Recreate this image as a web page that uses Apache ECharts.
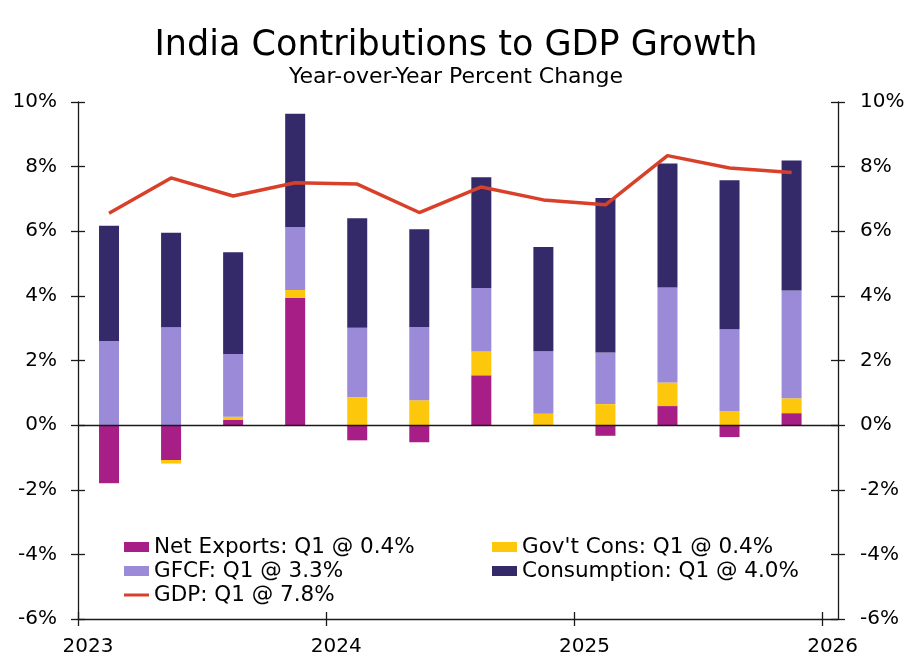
<!DOCTYPE html>
<html>
<head>
<meta charset="utf-8">
<title>India Contributions to GDP Growth</title>
<script src="https://cdn.jsdelivr.net/npm/echarts@6/dist/echarts.min.js"></script>
<style>
  html, body { margin: 0; padding: 0; background: #fff; }
  #chart { width: 912px; height: 662px; }
</style>
</head>
<body>
<div id="chart"></div>
<script>
// Quarters shown, oldest first
var quarters = ['2023-Q1', '2023-Q2', '2023-Q3', '2023-Q4',
                '2024-Q1', '2024-Q2', '2024-Q3', '2024-Q4',
                '2025-Q1', '2025-Q2', '2025-Q3', '2025-Q4'];

// Contributions, percentage points
var netExports  = [-1.79, -1.08, 0.16, 3.94, -0.47, -0.53, 1.54, 0.00, -0.33, 0.59, -0.37, 0.37];
var govCons     = [-0.02, -0.11, 0.10, 0.24, 0.86, 0.77, 0.74, 0.35, 0.65, 0.73, 0.43, 0.46];
var gfcf        = [2.60, 3.03, 1.94, 1.95, 2.15, 2.27, 1.96, 1.94, 1.60, 2.94, 2.54, 3.34];
var consumption = [3.57, 2.92, 3.15, 3.51, 3.39, 3.02, 3.43, 3.22, 4.78, 3.84, 4.61, 4.02];
var gdp         = [6.56, 7.65, 7.09, 7.50, 7.46, 6.58, 7.37, 6.97, 6.82, 8.34, 7.96, 7.82];

// Axis ticks (years)
var yearTicks = [2023, 2024, 2025, 2026];

var names = {
	net: 'Net Exports: Q1 @ 0.4%',
	gov: "Gov't Cons: Q1 @ 0.4%",
	gfcf: 'GFCF: Q1 @ 3.3%',
	cons: 'Consumption: Q1 @ 4.0%',
	gdp: 'GDP: Q1 @ 7.8%'
};

var font = 'DejaVu Sans';
var axisColor = '#1a1a1a';

// Quarter label -> position on the year axis (middle of the quarter)
function quarterPos(q) {
	var parts = q.split('-Q');
	return +parts[0] + (+parts[1] - 0.5) / 4;
}

// value first, position second, so the stack sums the values
function pairs(values) {
	return values.map(function (v, i) { return [v, quarterPos(quarters[i])]; });
}

function barSeries(name, values, color) {
	return {
		name: name,
		type: 'bar',
		stack: 'gdp',
		barWidth: 20,
		encode: { x: 1, y: 0 },
		itemStyle: { color: color },
		data: pairs(values)
	};
}

function legendAt(name, left, top, h) {
	return {
		data: [name],
		left: left,
		top: top,
		padding: 0,
		icon: 'rect',
		itemWidth: 25,
		itemHeight: h,
		selectedMode: false,
		textStyle: { fontFamily: font, fontSize: 21.5, color: '#000' }
	};
}

function yAxisDef(pos, inside, labels) {
	return {
		type: 'value',
		position: pos,
		min: -6,
		max: 10,
		interval: 2,
		axisLine: { show: !inside, lineStyle: { color: axisColor, width: 1.3 } },
		axisTick: { show: true, inside: inside, length: 7, lineStyle: { color: axisColor, width: 1.3 } },
		splitLine: { show: false },
		axisLabel: {
			show: labels,
			margin: pos == 'left' ? 21 : 22,
			fontFamily: font,
			fontSize: 20,
			color: '#000',
			formatter: '{value}%'
		}
	};
}

function xAxisDef(inside, labels) {
	return {
		type: 'value',
		position: 'bottom',
		min: 2023,
		max: 2026.062,
		axisLine: { show: !inside, onZero: false, lineStyle: { color: axisColor, width: 1.3 } },
		axisTick: { show: true, inside: inside, length: 7, customValues: yearTicks, lineStyle: { color: axisColor, width: 1.3 } },
		splitLine: { show: false },
		axisLabel: {
			show: labels,
			customValues: yearTicks,
			margin: 18,
			padding: [0, 0, 0, 20],
			fontFamily: font,
			fontSize: 20,
			color: '#000',
			formatter: function (v) { return String(v); }
		}
	};
}

var chart = echarts.init(document.getElementById('chart'));

var option = {
	animation: false,
	backgroundColor: '#fff',
	title: [{
		text: 'India Contributions to GDP Growth',
		left: 'center',
		top: 28,
		padding: 0,
		textStyle: { fontFamily: font, fontSize: 35, fontWeight: 'normal', color: '#000' }
	}, {
		text: 'Year-over-Year Percent Change',
		left: 'center',
		top: 66,
		padding: 0,
		textStyle: { fontFamily: font, fontSize: 22, fontWeight: 'normal', color: '#000' }
	}],
	legend: [
		legendAt(names.net, 124, 536, 10),
		legendAt(names.gfcf, 124, 560, 10),
		legendAt(names.gdp, 124, 584, 3),
		legendAt(names.gov, 492, 536, 10),
		legendAt(names.cons, 492, 560, 10)
	],
	grid: { left: 78, right: 74, top: 102, bottom: 43, containLabel: false },
	xAxis: [xAxisDef(false, true), xAxisDef(true, false)],
	yAxis: [yAxisDef('left', false, true), yAxisDef('right', false, true),
	        yAxisDef('left', true, false), yAxisDef('right', true, false)],
	series: [
		barSeries(names.net, netExports, '#a61e86'),
		barSeries(names.gov, govCons, '#fdc70c'),
		barSeries(names.gfcf, gfcf, '#9a8ad8'),
		barSeries(names.cons, consumption, '#352a69'),
		{
			name: names.gdp,
			type: 'line',
			symbol: 'none',
			z: 5,
			encode: { x: 1, y: 0 },
			lineStyle: { color: '#d9402a', width: 3.5 },
			itemStyle: { color: '#d9402a' },
			data: pairs(gdp),
			markLine: {
				silent: true,
				symbol: 'none',
				label: { show: false },
				lineStyle: { color: axisColor, width: 1.3, type: 'solid' },
				data: [{ yAxis: 0 }]
			}
		}
	]
};

chart.setOption(option);
</script>
</body>
</html>
